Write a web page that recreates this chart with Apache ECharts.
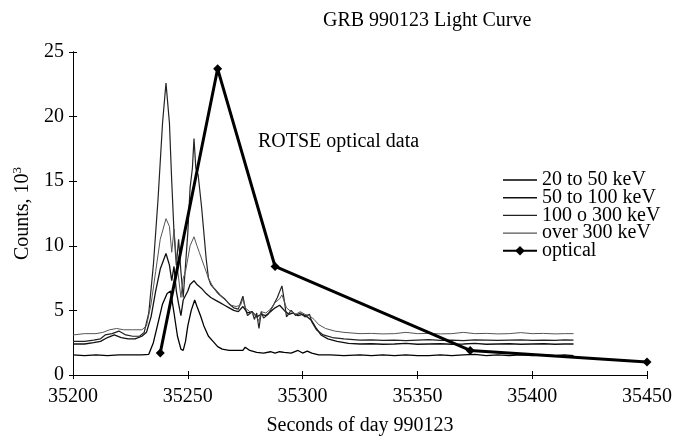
<!DOCTYPE html>
<html>
<head>
<meta charset="utf-8">
<script src="https://cdn.jsdelivr.net/npm/echarts@6/dist/echarts.min.js"></script>
<style>
  html, body { margin: 0; padding: 0; background: #fff; }
  #chart { width: 675px; height: 441px; }
</style>
</head>
<body>
<div id="chart"></div>
<script>
const mychart = echarts.init(document.getElementById('chart'))

// seconds of day vs counts (10^3)
var kev20to50 = [
    [35200,1.55],[35205,1.5],[35210,1.55],[35215,1.5],[35220,1.55],[35225,1.55],[35230,1.55],
    [35233,1.6],[35235,2.5],[35237,4],[35239,5.5],[35241,6.3],[35242.5,6.5],[35244,4.8],
    [35245.5,3],[35247,2.0],[35248,1.9],[35249,2.6],[35250,3.8],[35251.5,5],[35253,5.8],
    [35254,5.3],[35255.5,4.6],[35257,3.8],[35259,3.0],[35261,2.6],[35263,2.2],[35265,2.0],
    [35268,1.9],[35271,1.9],[35274,1.9],[35275,2.15],[35277,1.9],[35280,1.75],[35283,1.7],
    [35286,1.8],[35288,1.7],[35290,1.8],[35292,1.75],[35295,1.7],[35298,1.9],[35300,1.7],
    [35302,1.85],[35304,1.7],[35307,1.55],[35312,1.55],[35318,1.5],[35325,1.55],[35330,1.5],
    [35335,1.55],[35340,1.5],[35345,1.55],[35350,1.5],[35355,1.5],[35360,1.55],[35365,1.5],
    [35370,1.55],[35375,1.6],[35380,1.5],[35385,1.55],[35390,1.5],[35395,1.55],[35400,1.5],
    [35405,1.55],[35410,1.5],[35414,1.55],[35418,1.5]
]

var kev50to100 = [
    [35200,2.4],[35205,2.4],[35209,2.5],[35212,2.6],[35215,2.9],[35218,3.1],[35221,2.9],
    [35224,2.8],[35227,2.8],[35230,3.0],[35232,3.3],[35234,4.5],[35236,6.5],[35238,8.2],
    [35240.5,9.4],[35242,8.5],[35243,7.3],[35244,8.4],[35245,6.5],[35246,5.5],[35247,4.6],
    [35248,5.8],[35250,6.5],[35251,7],[35252.7,7.3],[35254,7],[35256,6.7],[35258,6.3],
    [35260,6.0],[35262,5.8],[35264,5.6],[35266,5.4],[35268,5.2],[35270,5.0],[35272,4.9],
    [35274,5.3],[35276,4.8],[35278,4.9],[35280,4.5],[35282,4.7],[35284,4.6],[35286,4.9],
    [35288,5.2],[35290,5.4],[35292,5.0],[35294,4.7],[35296,4.8],[35298,4.6],[35300,4.7],
    [35302,4.5],[35304,4.2],[35306,3.6],[35308,3.1],[35311,2.8],[35315,2.6],[35320,2.45],
    [35325,2.4],[35330,2.42],[35335,2.38],[35340,2.4],[35345,2.45],[35350,2.38],[35355,2.4],
    [35360,2.42],[35365,2.38],[35370,2.4],[35375,2.44],[35380,2.38],[35385,2.4],[35390,2.42],
    [35395,2.38],[35400,2.4],[35405,2.42],[35410,2.38],[35414,2.4],[35418,2.4]
]

var kev100to300 = [
    [35200,2.6],[35205,2.6],[35209,2.7],[35212,2.8],[35214,3.1],[35217,3.2],[35220,3.4],
    [35223,3.1],[35226,3.0],[35229,3.0],[35231,3.3],[35233,4.8],[35235,8.5],[35237,13.5],
    [35239,19.5],[35240.5,22.6],[35242,19.5],[35243,15],[35244,11],[35245,8.5],[35246,10.5],
    [35247,8],[35248,6],[35249,8.5],[35250,11],[35251,14.5],[35252,16],[35252.7,18.3],
    [35253.5,16],[35254.5,15.5],[35256,13],[35257,11],[35258,9],[35259,7.5],[35260,7],
    [35262,6.6],[35264,6.2],[35266,5.9],[35268,5.5],[35270,5.2],[35272,5.1],[35273,5.6],
    [35274,6.1],[35275,5.2],[35276,4.6],[35278,4.9],[35279,4.3],[35280,4.8],[35281,3.6],
    [35282,4.9],[35283,4.4],[35285,4.7],[35287,5.3],[35289,6.0],[35291,6.9],[35292,5.8],
    [35293,4.5],[35295,5.0],[35297,4.6],[35299,4.8],[35301,4.5],[35303,4.7],[35304,4.1],
    [35306,3.5],[35309,3.1],[35313,2.9],[35318,2.8],[35325,2.7],[35330,2.72],[35335,2.68],
    [35340,2.7],[35345,2.66],[35350,2.7],[35355,2.74],[35360,2.68],[35365,2.7],[35370,2.66],
    [35375,2.72],[35380,2.7],[35385,2.68],[35390,2.7],[35395,2.72],[35400,2.68],[35405,2.7],
    [35410,2.68],[35414,2.72],[35418,2.7]
]

var kevOver300 = [
    [35200,3.1],[35205,3.2],[35210,3.2],[35213,3.3],[35216,3.5],[35219,3.6],[35222,3.5],
    [35226,3.5],[35230,3.5],[35232,3.8],[35234,5.5],[35236,8],[35238,10.5],[35240.5,12.1],
    [35242,11.5],[35243,9.5],[35244,11.3],[35245,9],[35246,7.5],[35247,6],[35248,7.5],
    [35249,8],[35250,9],[35251,10],[35252.7,10.7],[35254,10],[35255,9.5],[35257,8.5],
    [35259,7.5],[35261,6.8],[35263,6.3],[35265,6],[35267,5.7],[35269,5.4],[35271,5.3],
    [35273,5.4],[35274,5.9],[35275,5.2],[35277,4.9],[35279,4.7],[35281,4.2],[35282,4.9],
    [35284,4.8],[35286,5.1],[35288,5.6],[35290,5.9],[35291,6.2],[35293,5.2],[35295,4.9],
    [35297,4.7],[35299,4.9],[35301,4.7],[35303,4.6],[35305,4.3],[35307,3.9],[35310,3.6],
    [35314,3.4],[35318,3.3],[35325,3.2],[35330,3.22],[35335,3.18],[35340,3.2],[35345,3.3],
    [35350,3.2],[35355,3.22],[35360,3.18],[35365,3.2],[35370,3.3],[35375,3.2],[35380,3.22],
    [35385,3.18],[35390,3.2],[35395,3.28],[35400,3.2],[35405,3.22],[35410,3.18],[35414,3.2],
    [35418,3.2]
]

var optical = [
    [35238,1.7],[35263,23.7],[35288,8.4],[35373,1.9],[35450,1.0]
]

var legendNames = ['20 to 50 keV', '50 to 100 keV', '100 o 300 keV', 'over 300 keV', 'optical']

var serif = 'Liberation Serif'
// plain line icon for the gamma-ray entries (invisible moveTo points keep the box size)
var lineIcon = 'path://M0,0M34,12M0,5.3L34,5.3L34,6.7L0,6.7Z'

function gammaLine(name, data, color, width) {
    return {
        name: name,
        type: 'line',
        data: data,
        symbol: 'none',
        lineStyle: {color: color, width: width},
        itemStyle: {color: color},
        animation: false
    }
}

var xBase = {
    type: 'value', min: 35200, max: 35450, interval: 50,
    axisLine: {lineStyle: {color: '#000', width: 1}},
    splitLine: {show: false}
}
var yBase = {
    type: 'value', min: 0, max: 25, interval: 5,
    axisLine: {show: true, lineStyle: {color: '#000', width: 1}},
    splitLine: {show: false}
}

mychart.setOption({
    backgroundColor: '#fff',
    title: {
        text: 'GRB 990123 Light Curve',
        left: 318,
        top: 6,
        textStyle: {fontFamily: serif, fontSize: 20, fontWeight: 'normal', color: '#000'}
    },
    grid: {left: 73, right: 21, top: 52, bottom: 66},
    legend: {
        data: legendNames.map(function (n, i) {
            return i < 4 ? {name: n, icon: lineIcon} : {name: n}
        }),
        orient: 'vertical',
        left: 497,
        top: 165,
        itemGap: -2.3,
        itemWidth: 34,
        itemHeight: 12,
        textStyle: {fontFamily: serif, fontSize: 20, color: '#000'}
    },
    xAxis: [
        Object.assign({}, xBase, {
            position: 'bottom',
            axisTick: {length: 4, lineStyle: {color: '#000'}},
            axisLabel: {
                fontFamily: serif, fontSize: 20, color: '#000', margin: 12,
                formatter: function (v) { return String(v) }
            },
            name: 'Seconds of day 990123',
            nameLocation: 'middle',
            nameGap: 41,
            nameTextStyle: {fontFamily: serif, fontSize: 20, color: '#000'}
        }),
        Object.assign({}, xBase, {
            position: 'bottom',
            axisTick: {inside: true, length: 4, lineStyle: {color: '#000'}},
            axisLabel: {show: false}
        })
    ],
    yAxis: [
        Object.assign({}, yBase, {
            position: 'left',
            axisTick: {show: true, length: 4, lineStyle: {color: '#000'}},
            axisLabel: {fontFamily: serif, fontSize: 20, color: '#000', margin: 9},
            name: 'Counts, 10{sup|3}',
            nameLocation: 'middle',
            nameRotate: 90,
            nameGap: 31,
            nameTextStyle: {
                fontFamily: serif, fontSize: 20, color: '#000',
                rich: {sup: {fontFamily: serif, fontSize: 13, color: '#000', padding: [0, 0, 12, 0]}}
            }
        }),
        Object.assign({}, yBase, {
            position: 'left',
            axisTick: {show: true, inside: true, length: 4, lineStyle: {color: '#000'}},
            axisLabel: {show: false}
        })
    ],
    graphic: [{
        type: 'text',
        left: 258,
        top: 132,
        style: {text: 'ROTSE optical data', font: '20px "Liberation Serif"', fill: '#000'}
    }],
    series: [
        gammaLine(legendNames[0], kev20to50, '#000', 1.3),
        gammaLine(legendNames[1], kev50to100, '#111', 1.3),
        gammaLine(legendNames[2], kev100to300, '#222', 1.2),
        gammaLine(legendNames[3], kevOver300, '#555', 1.0),
        {
            name: legendNames[4],
            type: 'line',
            data: optical,
            symbol: 'diamond',
            symbolSize: 9,
            lineStyle: {color: '#000', width: 3},
            itemStyle: {color: '#000'},
            z: 5,
            animation: false
        }
    ]
})
</script>
</body>
</html>
